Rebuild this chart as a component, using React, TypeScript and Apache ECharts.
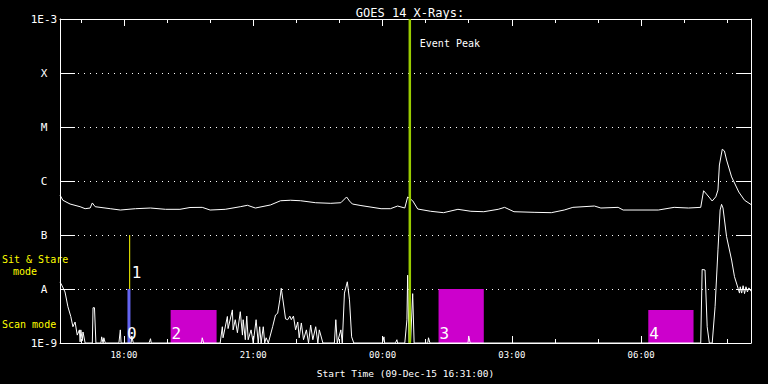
import React, { useEffect, useRef } from "react";
import * as echarts from "echarts";

const FONT = '"DejaVu Sans Mono", monospace';

// ---- axis definitions ----
const START_TIME = "16:31";
const END_TIME = "08:33";
const titleText = "GOES 14 X-Rays:";
const xAxisName = "Start Time (09-Dec-15 16:31:00)";
const majorHours = [18, 21, 24, 27, 30];
const minorHours = [17, 18, 19, 20, 21, 22, 23, 24, 25, 26, 27, 28, 29, 30, 31, 32];
const yExponents = [-9, -8, -7, -6, -5, -4, -3];
const yTickLabels = ["1E-9", "A", "B", "C", "M", "X", "1E-3"];

// ---- long channel (1-8 A), minutes after start, W/m^2 ----
const longMin = [0, 4, 14, 28, 35, 42, 45, 49, 70, 84, 105, 126, 147, 167, 181, 198, 209, 230, 251, 261, 272, 293, 307, 321, 335, 356, 377, 391, 399, 403, 407, 419, 447, 460, 470, 480, 484, 491, 498, 516, 534, 554, 572, 590, 610, 619, 632, 660, 684, 702, 714, 744, 753, 777, 784, 833, 855, 875, 892, 896, 900, 908, 913, 916, 918, 922, 925, 928, 935, 945, 953, 963];
const longVal = [5.5e-7, 4.4e-7, 3.75e-7, 3.34e-7, 3.07e-7, 3.16e-7, 3.92e-7, 3.34e-7, 3.07e-7, 2.9e-7, 3.07e-7, 3.16e-7, 2.99e-7, 2.99e-7, 3.23e-7, 3.25e-7, 2.9e-7, 2.99e-7, 3.34e-7, 3.55e-7, 3.16e-7, 3.6e-7, 4.31e-7, 4.4e-7, 4.31e-7, 3.96e-7, 3.86e-7, 3.96e-7, 5.06e-7, 4.26e-7, 3.75e-7, 3.51e-7, 3.07e-7, 3.07e-7, 3.44e-7, 3.16e-7, 5.06e-7, 4.31e-7, 3.03e-7, 2.75e-7, 2.59e-7, 2.99e-7, 2.75e-7, 2.7e-7, 2.99e-7, 3.25e-7, 2.7e-7, 2.63e-7, 2.59e-7, 2.9e-7, 3.25e-7, 3.44e-7, 3.16e-7, 3.25e-7, 2.9e-7, 2.9e-7, 3.25e-7, 3.16e-7, 3.25e-7, 6.6e-7, 5.74e-7, 4.26e-7, 5.1e-7, 6.8e-7, 1.98e-6, 3.87e-6, 3.6e-6, 2.45e-6, 1.19e-6, 6.25e-7, 4.4e-7, 3.6e-7];

// ---- short channel (0.5-4 A), minutes after start, W/m^2 ----
const shortMin = [0, 3, 7, 11, 15, 18, 21, 24, 27, 28, 29, 31, 32, 35, 45, 46, 48, 50, 57, 58, 60, 61, 63, 82, 84, 85, 99, 100, 102, 124, 126, 127, 197, 198, 200, 223, 226, 227, 233, 234, 240, 241, 244, 247, 251, 254, 255, 258, 260, 262, 266, 269, 273, 276, 278, 280, 283, 285, 287, 290, 296, 300, 303, 306, 308, 311, 314, 317, 320, 322, 325, 328, 331, 333, 336, 339, 343, 346, 349, 352, 356, 359, 361, 366, 382, 384, 386, 391, 393, 396, 400, 403, 406, 409, 449, 451, 452, 467, 469, 470, 480, 483, 484, 486, 488, 491, 493, 512, 513, 515, 568, 569, 571, 892, 894, 898, 901, 904, 908, 912, 916, 919, 921, 923, 928, 935, 939, 944, 946, 947, 949, 951, 953, 955, 957, 959, 963];
const shortVal = [1.35e-8, 1.14e-8, 8.8e-9, 4.7e-9, 3.1e-9, 2.0e-9, 2.45e-9, 1.4e-9, 1.75e-9, 1.05e-9, 1.75e-9, 1.1e-9, 1.6e-9, 1e-9, 1e-9, 4.5e-9, 4.5e-9, 1e-9, 1e-9, 1.3e-9, 1e-9, 1.25e-9, 1e-9, 1e-9, 1.75e-9, 1e-9, 1e-9, 1.35e-9, 1e-9, 1e-9, 1.2e-9, 1e-9, 1e-9, 1.25e-9, 1e-9, 1e-9, 2.0e-9, 1.25e-9, 3.1e-9, 1.85e-9, 4.1e-9, 1.75e-9, 2.7e-9, 1.55e-9, 3.8e-9, 1.4e-9, 2.7e-9, 1.15e-9, 3.15e-9, 1.15e-9, 1.75e-9, 1e-9, 2.7e-9, 1e-9, 2.0e-9, 1e-9, 2.0e-9, 1e-9, 1.25e-9, 1e-9, 2.0e-9, 3.3e-9, 3.55e-9, 6.3e-9, 1.03e-8, 5.5e-9, 2.8e-9, 2.7e-9, 3.15e-9, 2.7e-9, 3.15e-9, 1.75e-9, 2.45e-9, 1.25e-9, 2.35e-9, 1.15e-9, 1.75e-9, 1e-9, 2.15e-9, 1.15e-9, 2.0e-9, 1e-9, 1.75e-9, 1e-9, 1e-9, 2.7e-9, 1e-9, 1.75e-9, 1e-9, 8.4e-9, 1.36e-8, 6.3e-9, 1.3e-9, 1e-9, 1e-9, 1.3e-9, 1e-9, 1e-9, 1.15e-9, 1e-9, 1e-9, 2.7e-9, 1.8e-8, 1e-9, 1e-9, 8.2e-9, 1e-9, 1e-9, 1.25e-9, 1e-9, 1e-9, 1.35e-9, 1e-9, 1e-9, 2.3e-8, 2.25e-8, 2.0e-9, 1e-9, 1e-9, 4.7e-9, 5.3e-8, 2.9e-7, 3.7e-7, 3.16e-7, 9.3e-8, 3.44e-8, 1.69e-8, 1.03e-8, 8.4e-9, 1.1e-8, 8.4e-9, 1.15e-8, 8.2e-9, 1.1e-8, 8.8e-9, 1.05e-8, 8.8e-9];

// ---- annotations ----
const eventPeakTime = "00:38";
const eventPeakLabel = "Event Peak";
const stareTime = "18:08";
const stareRange = [1e-8, 1e-7];
const stareLabel = "1";
const scanBarTime = "18:07";
const scanBarRange = [1e-9, 1e-8];
const scanBarLabel = "0";
const scanStart = ["19:05", "01:18", "06:10"];
const scanEnd = ["20:09", "02:21", "07:13"];
const scanTop = [4.1e-9, 1e-8, 4.1e-9];
const scanLabels = ["2", "3", "4"];
const modeLabels = ["Sit & Stare", "mode", "Scan mode"];

// ---- helpers ----
const clockToHours = (s: string) => {
  const [h, m] = s.split(":").map(Number);
  const v = h + m / 60;
  return v < 12 ? v + 24 : v;
};
const startH = clockToHours(START_TIME);
const endH = clockToHours(END_TIME);
const minToX = (m: number) => startH + m / 60;
const lg = (v: number) => Math.log10(v);
const pad = (n: number) => (n < 10 ? "0" + n : "" + n);

function vLineSeries(
  name: string,
  x: number,
  lo: number,
  hi: number,
  color: string,
  width: number,
  label: string,
  anchor: "top" | "bottom",
  dx: number,
  dy: number,
  fontSize: number,
  z: number
) {
  return {
    type: "custom",
    name,
    z,
    silent: true,
    xAxisIndex: 0,
    yAxisIndex: 0,
    data: [[x, lo, hi]],
    renderItem: (_p: any, api: any) => {
      const a = api.coord([api.value(0), api.value(1)]);
      const b = api.coord([api.value(0), api.value(2)]);
      const children: any[] = [
        {
          type: "line",
          shape: { x1: a[0], y1: a[1], x2: b[0], y2: b[1] },
          style: { stroke: color, lineWidth: width },
        },
      ];
      if (label) {
        const p = anchor === "top" ? b : a;
        children.push({
          type: "text",
          x: p[0] + dx,
          y: p[1] + dy,
          style: {
            text: label,
            fill: "#ffffff",
            fontSize,
            fontFamily: FONT,
            align: "left",
            verticalAlign: "middle",
          },
        });
      }
      return { type: "group", children };
    },
  };
}

export default function App() {
  const ref = useRef<HTMLDivElement>(null);

  useEffect(() => {
    if (!ref.current) return;
    const chart = echarts.init(ref.current, undefined, { renderer: "svg" });

    const white = "#ffffff";
    const xBase = {
      type: "value",
      min: startH,
      max: endH,
      gridIndex: 0,
      splitLine: { show: false },
    };
    const yBase = { type: "value", min: -9, max: -3, interval: 1, gridIndex: 0 };

    const longData = longMin.map((m, i) => [minToX(m), lg(longVal[i])]);
    const shortData = shortMin.map((m, i) => [minToX(m), lg(shortVal[i])]);
    const boxData = scanStart.map((s, i) => [clockToHours(s), clockToHours(scanEnd[i]), lg(scanTop[i])]);

    const option: any = {
      animation: false,
      backgroundColor: "#000000",
      title: {
        text: titleText,
        left: 405,
        top: 2,
        textAlign: "center",
        textStyle: { color: white, fontSize: 12, fontWeight: "normal", fontFamily: FONT },
      },
      grid: { left: 60, right: 17, top: 19, bottom: 41, containLabel: false },
      xAxis: [
        {
          ...xBase,
          position: "bottom",
          axisLine: { show: true, lineStyle: { color: white, width: 1 } },
          axisTick: { show: true, inside: true, length: 7, customValues: majorHours, lineStyle: { color: white } },
          axisLabel: {
            show: true,
            customValues: majorHours,
            formatter: (v: number) => pad(Math.round(v) % 24) + ":00",
            color: white,
            fontSize: 9,
            fontFamily: FONT,
            margin: 7,
          },
          name: xAxisName,
          nameLocation: "middle",
          nameGap: 25,
          nameTextStyle: { color: white, fontSize: 9.5, fontFamily: FONT },
        },
        {
          ...xBase,
          position: "bottom",
          axisLine: { show: false },
          axisTick: { show: true, inside: true, length: 4, customValues: minorHours, lineStyle: { color: white } },
          axisLabel: { show: false },
        },
        {
          ...xBase,
          position: "top",
          axisLine: { show: true, lineStyle: { color: white, width: 1 } },
          axisTick: { show: true, inside: true, length: 7, customValues: majorHours, lineStyle: { color: white } },
          axisLabel: { show: false },
        },
        {
          ...xBase,
          position: "top",
          axisLine: { show: false },
          axisTick: { show: true, inside: true, length: 4, customValues: minorHours, lineStyle: { color: white } },
          axisLabel: { show: false },
        },
      ],
      yAxis: [
        {
          ...yBase,
          position: "left",
          axisLine: { show: true, lineStyle: { color: white, width: 1 } },
          axisTick: { show: true, inside: true, length: 15, lineStyle: { color: white } },
          axisLabel: {
            show: true,
            color: white,
            fontSize: 11,
            fontFamily: FONT,
            align: "center",
            margin: 16,
            formatter: (v: number) => yTickLabels[yExponents.indexOf(Math.round(v))] ?? "",
          },
          splitLine: { show: true, lineStyle: { color: white, width: 1, type: [1, 5] } },
        },
        {
          ...yBase,
          position: "right",
          axisLine: { show: true, lineStyle: { color: white, width: 1 } },
          axisTick: { show: true, inside: true, length: 15, lineStyle: { color: white } },
          axisLabel: { show: false },
          splitLine: { show: false },
        },
      ],
      graphic: [
        { type: "text", x: 2, y: 259, style: { text: modeLabels[0], fill: "#ffff00", fontSize: 10, fontFamily: FONT, verticalAlign: "middle" } },
        { type: "text", x: 13, y: 271, style: { text: modeLabels[1], fill: "#ffff00", fontSize: 10, fontFamily: FONT, verticalAlign: "middle" } },
        { type: "text", x: 2, y: 324, style: { text: modeLabels[2], fill: "#ffff00", fontSize: 10, fontFamily: FONT, verticalAlign: "middle" } },
      ],
      series: [
        {
          type: "custom",
          name: "scan windows",
          z: 1,
          silent: true,
          xAxisIndex: 0,
          yAxisIndex: 0,
          data: boxData,
          renderItem: (params: any, api: any) => {
            const p0 = api.coord([api.value(0), -9]);
            const p1 = api.coord([api.value(1), api.value(2)]);
            return {
              type: "group",
              children: [
                {
                  type: "rect",
                  shape: { x: p0[0], y: p1[1], width: p1[0] - p0[0], height: p0[1] - p1[1] },
                  style: { fill: "#cc00cc" },
                },
                {
                  type: "text",
                  x: p0[0] + 1,
                  y: p0[1] - 10,
                  style: {
                    text: scanLabels[params.dataIndex],
                    fill: "#ffffff",
                    fontSize: 16,
                    fontFamily: FONT,
                    align: "left",
                    verticalAlign: "middle",
                  },
                },
              ],
            };
          },
        },
        vLineSeries("scan bar", clockToHours(scanBarTime), lg(scanBarRange[0]), lg(scanBarRange[1]), "#6464f0", 3, scanBarLabel, "bottom", -2, -10, 16, 2),
        vLineSeries("stare", clockToHours(stareTime), lg(stareRange[0]), lg(stareRange[1]), "#ffff00", 1, stareLabel, "bottom", 2, -17, 16, 2),
        {
          type: "line",
          name: "long",
          z: 3,
          xAxisIndex: 0,
          yAxisIndex: 0,
          data: longData,
          showSymbol: false,
          symbol: "none",
          lineStyle: { color: white, width: 1 },
          silent: true,
        },
        {
          type: "line",
          name: "short",
          z: 3,
          xAxisIndex: 0,
          yAxisIndex: 0,
          data: shortData,
          showSymbol: false,
          symbol: "none",
          lineStyle: { color: white, width: 1 },
          silent: true,
        },
        vLineSeries("event", clockToHours(eventPeakTime), -9, -3, "#99cc00", 2.5, eventPeakLabel, "top", 10, 24, 10, 4),
      ],
    };

    chart.setOption(option);
    return () => chart.dispose();
  }, []);

  return (
    <div
      ref={ref}
      style={{ position: "fixed", left: 0, top: 0, width: 768, height: 384, background: "#000" }}
    />
  );
}
